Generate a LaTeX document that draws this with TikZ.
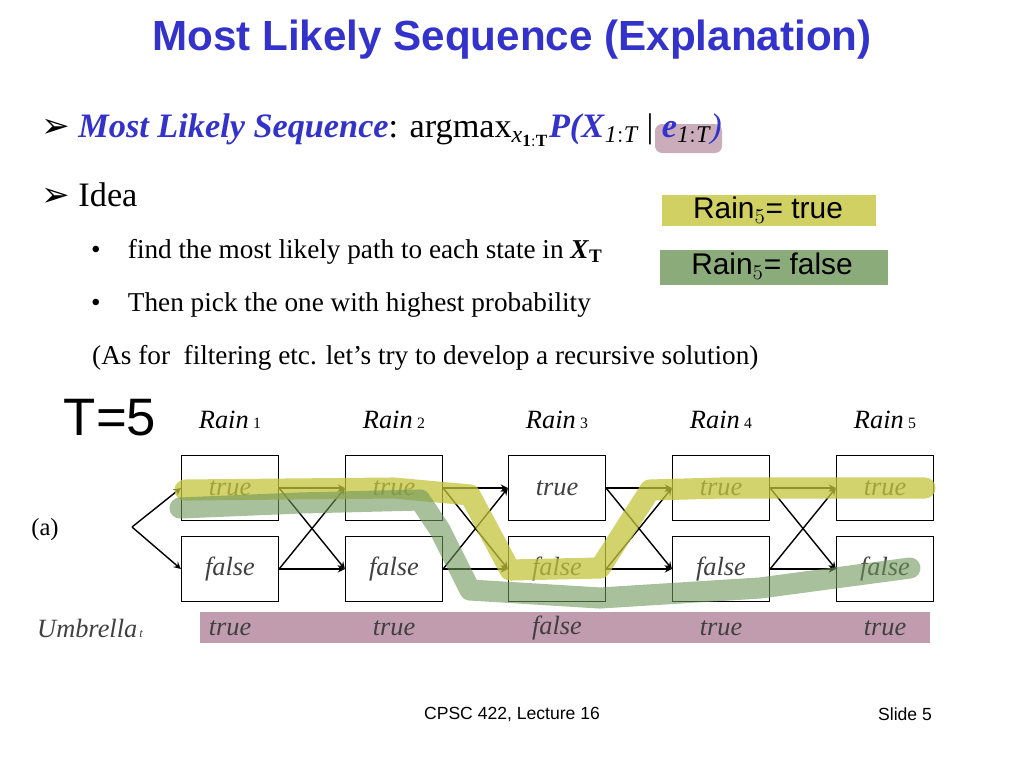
\documentclass[tikz,border=0pt]{standalone}
\usepackage{fontspec}
\setmainfont{Liberation Serif}
\setsansfont{Liberation Sans}
\newfontfamily\symfont{DejaVu Sans}
\usetikzlibrary{positioning}
\definecolor{titleblue}{RGB}{51,51,204}
\definecolor{hlyellow}{RGB}{196,196,60}
\definecolor{hlgreen}{RGB}{110,150,90}
\definecolor{hlpurple}{RGB}{150,90,120}
\tikzset{
  statebox/.style={draw,minimum width=55.5pt,minimum height=37pt,inner sep=0pt,font=\fontsize{15}{18}\selectfont\itshape\color{black!75}},
  hand/.style={font=\sffamily\fontsize{17}{20}\selectfont},
  trans/.style={->,>=stealth,thick},
}
\newcommand\arrbullet{{\symfont\char"27A2}}
\begin{document}
\begin{tikzpicture}[x=0.02cm,y=-0.02cm]
\useasboundingbox (0,0) rectangle (1024,768);
% highlights
\fill[hlyellow,opacity=.8] (662,195) rectangle (876,226);
\fill[hlgreen,opacity=.8] (660,250) rectangle (888,285);
\fill[hlpurple,opacity=.6] (200,612) rectangle (930,643);
\fill[hlpurple,opacity=.5,rounded corners=4pt] (655,124) rectangle (722,153);
% title
\node[font=\sffamily\bfseries\fontsize{24}{28}\selectfont,text=titleblue] (title) at (512,40) {Most Likely Sequence (Explanation)};
% bullets
\node[anchor=west,font=\fontsize{19.5}{23}\selectfont] (b1) at (35,130) {\arrbullet\ \textcolor{titleblue}{\textbf{\textit{Most Likely Sequence}}}: argmax$_{\mathbf{\mathit{x}_{1:T}}}$\textcolor{titleblue}{\textbf{\textit{P(X}}}$_{\mathit{1:T}}$ | \textcolor{titleblue}{\textbf{\textit{e}}}$_{\mathit{1:T}}$\textcolor{titleblue}{\textit{)}}};
\node[anchor=west,font=\fontsize{19.5}{23}\selectfont] (b2) at (35,195) {\arrbullet\ Idea};
\node[anchor=west,font=\fontsize{15.5}{19}\selectfont] (b3) at (85,252) {\textbullet\quad find the most likely path to each state in \textbf{\textit{X}}$_{\mathbf{T}}$};
\node[anchor=west,font=\fontsize{15.5}{19}\selectfont] (b4) at (85,305) {\textbullet\quad Then pick the one with highest probability};
\node[anchor=west,font=\fontsize{15.5}{19}\selectfont] (b5) at (86,358) {(As for\ \ filtering etc. let's try to develop a recursive solution)};
% handwriting
\node[hand] (r5t) at (768,210) {Rain$_5$= true};
\node[hand] (r5f) at (772,266) {Rain$_5$= false};
\node[font=\sffamily\fontsize{30}{34}\selectfont] (tee) at (110,418) {T=5};
% state grid
\foreach \i/\x in {1/230,2/394,3/557,4/721,5/885} {
  \node[statebox] (t\i) at (\x,488) {true};
  \node[statebox] (f\i) at (\x,569) {false};
  \node[font=\fontsize{15}{18}\selectfont\itshape] (r\i) at (\x,420) {Rain\,{\normalfont\small \i}};
}
\node[font=\fontsize{14}{17}\selectfont] (a) at (45,530) {(a)};
\coordinate (start) at (132,527);
\draw[trans] (start) -- (t1.west);
\draw[trans] (start) -- (f1.west);
\foreach \i/\j in {1/2,2/3,3/4,4/5} {
  \draw[trans] (t\i.east) -- (t\j.west);
  \draw[trans] (t\i.east) -- (f\j.west);
  \draw[trans] (f\i.east) -- (t\j.west);
  \draw[trans] (f\i.east) -- (f\j.west);
}
% paths
\draw[hlyellow,opacity=.75,line width=12pt,line cap=round,line join=round]
  (185,490) -- (t2.center) -- (470,495) -- (510,570) -- (600,568) -- (650,490) -- (t4.center) -- (925,488);
\draw[hlgreen,opacity=.6,line width=12pt,line cap=round,line join=round]
  (180,508) -- (300,503) -- (420,500) -- (440,530) -- (470,590) -- (600,598) -- (760,588) -- (910,568);
% observations
\node[font=\fontsize{15}{18}\selectfont\itshape,text=black!75] (umb) at (90,628) {Umbrella{\scriptsize\,t}};
\foreach \i/\x/\v in {1/230/true,2/394/true,3/557/false,4/721/true,5/885/true}
  \node[font=\fontsize{15}{18}\selectfont\itshape,text=black!75] (u\i) at (\x,628) {\v};
% footer
\node[font=\sffamily\fontsize{10}{12}\selectfont] (foot) at (512,714) {CPSC 422, Lecture 16};
\node[font=\sffamily\fontsize{10}{12}\selectfont] (slide) at (905,714) {Slide 5};
\end{tikzpicture}
\end{document}
